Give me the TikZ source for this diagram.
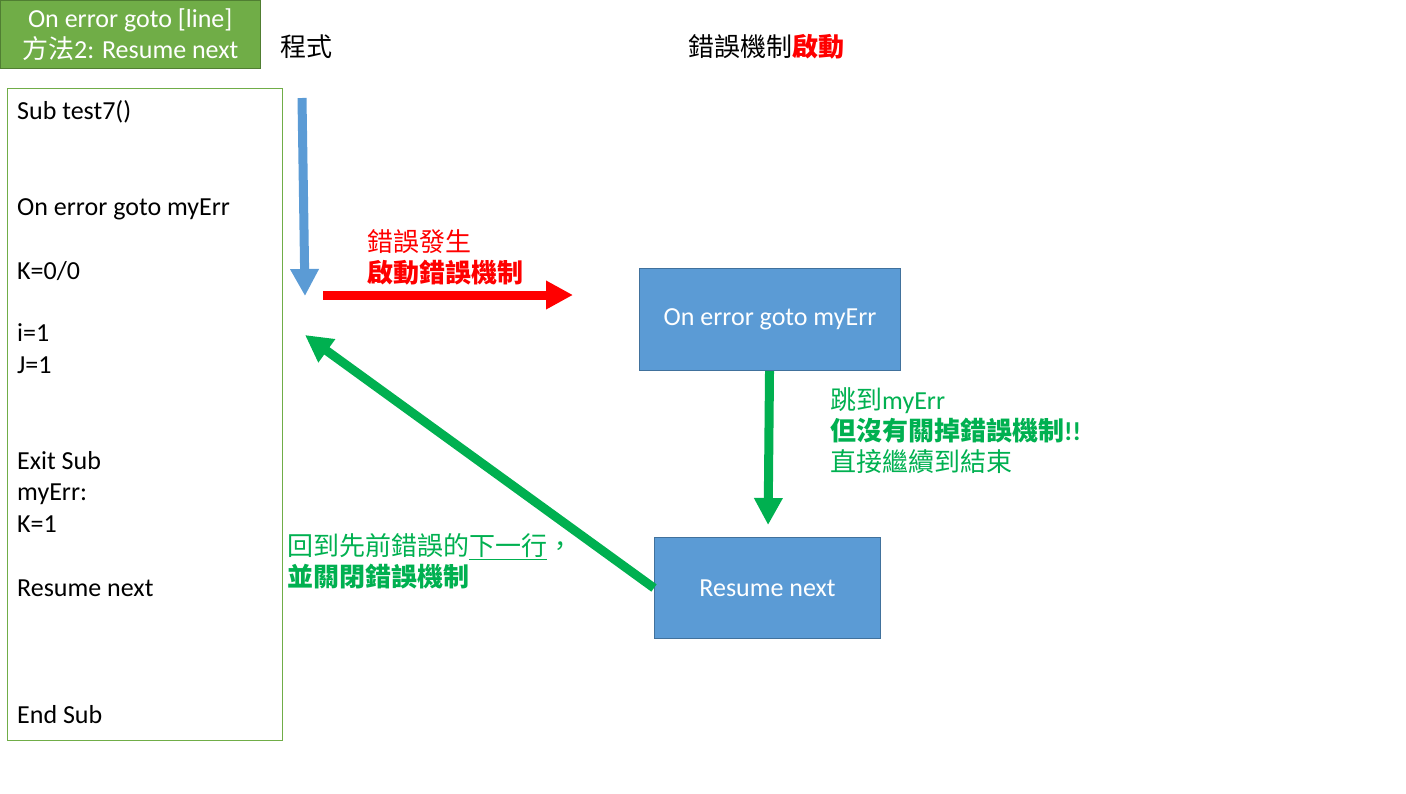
\documentclass[tikz,border=0pt]{standalone}
\usepackage{fontspec}
\setmainfont{Carlito}
\newfontfamily\cjk{Noto Sans CJK TC}
\usetikzlibrary{arrows.meta, positioning}
\definecolor{titlegreen}{HTML}{70AD47}
\definecolor{titleedge}{HTML}{507E32}
\definecolor{boxblue}{HTML}{5B9BD5}
\definecolor{boxedge}{HTML}{41719C}
\definecolor{errred}{HTML}{FF0000}
\definecolor{flowgreen}{HTML}{00B050}

\begin{document}
\begin{tikzpicture}[
    x=1pt, y=-1pt,
    every node/.style={font=\fontsize{26}{31}\selectfont, inner sep=0pt},
    titlebox/.style={draw=titleedge, fill=titlegreen, text=white, align=center, minimum width=260pt, minimum height=68pt, anchor=north west},
    codebox/.style={draw=titlegreen, line width=1pt, minimum width=275pt, minimum height=652pt, anchor=north west},
    code/.style={anchor=base west},
    block/.style={draw=boxedge, fill=boxblue, text=white, line width=1pt, anchor=north west},
    note/.style={anchor=west, align=left},
    bigarrow/.style={line width=9pt, -{Triangle[length=27pt, width=27pt]}}
]
    \useasboundingbox (0,0) rectangle (1406,793);

    % Title and headers
    \node[titlebox] (title) at (0,0) {On error goto [line]\\{\cjk 方法}2: Resume next};
    \node[note] (prog) at (280,47) {\cjk 程式};
    \node[note] (mech) at (688,47) {{\cjk 錯誤機制}{\cjk\bfseries\color{errred}啟動}};

    % Code listing
    \node[codebox] (listing) at (7,88) {};
    \foreach \ty/\txt in {119/{Sub test7()}, 215/{On error goto myErr}, 279/{K=0/0}, 341/{i=1}, 373/{J=1},
                          469/{Exit Sub}, 500/{myErr:}, 532/{K=1}, 596/{Resume next}, 723/{End Sub}}
        \node[code] at (17,\ty) {\txt};

    % Error handler blocks
    \node[block, minimum width=261pt, minimum height=102pt] (onerr) at (639,268) {On error goto myErr};
    \node[block, minimum width=226pt, minimum height=101pt] (resume) at (654,537) {Resume next};

    % Arrows
    \coordinate (flowtop) at (302,98);
    \coordinate (flowend) at (305,296);
    \coordinate (errstart) at (323,295);
    \coordinate (errend) at (573,295);
    \coordinate (backend) at (305,335);
    \draw[bigarrow, boxblue] (flowtop) -- (flowend);
    \draw[bigarrow, errred] (errstart) -- (errend);
    \draw[bigarrow, flowgreen, shorten >=12pt] (onerr) -- (resume);
    \draw[bigarrow, flowgreen] (resume.west) -- (backend);

    % Labels
    \node[note, text=errred] (errlbl) at (367,257.5) {\cjk 錯誤發生\\\cjk\bfseries 啟動錯誤機制};
    \node[note, text=flowgreen] (jumplbl) at (830,431) {{\cjk 跳到}myErr\\{\cjk\bfseries 但沒有關掉錯誤機制}\textbf{!!}\\{\cjk 直接繼續到結束}};
    \node[note, text=flowgreen] (backlbl) at (287,561.5) {{\cjk 回到先前錯誤的\underline{下一行}，}\\{\cjk\bfseries 並關閉錯誤機制}};
\end{tikzpicture}
\end{document}
